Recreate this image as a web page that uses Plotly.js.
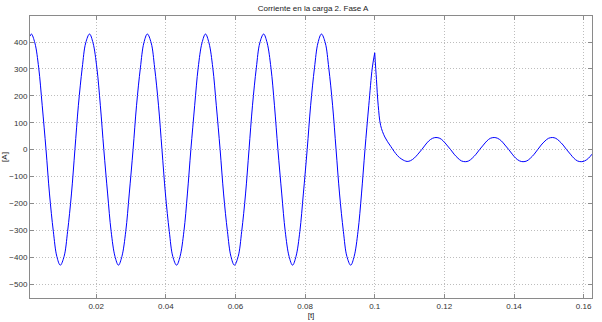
<!DOCTYPE html>
<html>
<head>
<meta charset="utf-8">
<script src="https://cdn.plot.ly/plotly-3.0.1.min.js"></script>
<style>html,body{margin:0;padding:0;background:#fff;}#chart{width:602px;height:322px;}</style>
</head>
<body>
<div id="chart"></div>
<script>
// Before the event (t <= 0.1 s): readings of the steady 60 Hz current
const tBefore = [0.0010,
  0.0014, 0.0024, 0.0035, 0.0045, 0.0056, 0.0066, 0.0077, 0.0087,
  0.0097, 0.0108, 0.0118, 0.0129, 0.0139, 0.0149, 0.0160, 0.0170,
  0.0181, 0.0191, 0.0202, 0.0212, 0.0222, 0.0233, 0.0243, 0.0254,
  0.0264, 0.0274, 0.0285, 0.0295, 0.0306, 0.0316, 0.0327, 0.0337,
  0.0347, 0.0358, 0.0368, 0.0379, 0.0389, 0.0399, 0.0410, 0.0420,
  0.0431, 0.0441, 0.0452, 0.0462, 0.0472, 0.0483, 0.0493, 0.0504,
  0.0514, 0.0524, 0.0535, 0.0545, 0.0556, 0.0566, 0.0577, 0.0587,
  0.0597, 0.0608, 0.0618, 0.0629, 0.0639, 0.0649, 0.0660, 0.0670,
  0.0681, 0.0691, 0.0702, 0.0712, 0.0722, 0.0733, 0.0743, 0.0754,
  0.0764, 0.0774, 0.0785, 0.0795, 0.0806, 0.0816, 0.0827, 0.0837,
  0.0847, 0.0858, 0.0868, 0.0879, 0.0889, 0.0899, 0.0910, 0.0920,
  0.0931, 0.0941, 0.0952, 0.0962, 0.0972, 0.0983, 0.0993,
  0.1000];
const iBefore = [422,
  430, 397, 304, 165, 0, -165, -304, -397,
  -430, -397, -304, -165, 0, 165, 304, 397,
  430, 397, 304, 165, 0, -165, -304, -397,
  -430, -397, -304, -165, 0, 165, 304, 397,
  430, 397, 304, 165, 0, -165, -304, -397,
  -430, -397, -304, -165, 0, 165, 304, 397,
  430, 397, 304, 165, 0, -165, -304, -397,
  -430, -397, -304, -165, 0, 165, 304, 397,
  430, 397, 304, 165, 0, -165, -304, -397,
  -430, -397, -304, -165, 0, 165, 304, 397,
  430, 397, 304, 165, 0, -165, -304, -397,
  -430, -397, -304, -165, 0, 165, 304,
  360];
// After the event (t >= 0.1 s)
const tAfter = [0.1000, 0.1005, 0.1010, 0.1017, 0.1029, 0.1046, 0.1065, 0.1078,
  0.1093, 0.1103, 0.1114, 0.1124, 0.1135, 0.1145, 0.1155, 0.1166,
  0.1176, 0.1187, 0.1197, 0.1207, 0.1218, 0.1228, 0.1239, 0.1249,
  0.1260, 0.1270, 0.1280, 0.1291, 0.1301, 0.1312, 0.1322, 0.1332,
  0.1343, 0.1353, 0.1364, 0.1374, 0.1385, 0.1395, 0.1405, 0.1416,
  0.1426, 0.1437, 0.1447, 0.1458, 0.1468, 0.1478, 0.1489, 0.1499,
  0.1510, 0.1520, 0.1530, 0.1541, 0.1551, 0.1562, 0.1572, 0.1582,
  0.1593, 0.1603, 0.1614, 0.1624];
const iAfter = [360, 260, 165, 90, 47, 12, -22, -36,
  -44, -41, -31, -17, 0, 17, 32, 42,
  45, 42, 32, 17, 0, -17, -32, -42,
  -45, -42, -32, -17, 0, 17, 32, 42,
  45, 42, 32, 17, 0, -17, -32, -42,
  -45, -42, -32, -17, 0, 17, 32, 42,
  45, 42, 32, 17, 0, -17, -32, -42,
  -45, -42, -32, -17];
const xTicks = [0.02, 0.04, 0.06, 0.08, 0.1, 0.12, 0.14, 0.16];
const xTickText = ['0.02', '0.04', '0.06', '0.08', '0.1', '0.12', '0.14', '0.16'];
const yTicks = [-500, -400, -300, -200, -100, 0, 100, 200, 300, 400];

const lineStyle = {color: 'rgb(0,0,255)', width: 1, shape: 'spline', smoothing: 1};
const traces = [
  {x: tBefore, y: iBefore, type: 'scatter', mode: 'lines', line: lineStyle, hoverinfo: 'skip'},
  {x: tAfter, y: iAfter, type: 'scatter', mode: 'lines', line: lineStyle, hoverinfo: 'skip'}
];
const font = 'Liberation Sans, Arial, sans-serif';
const axisCommon = {
  showline: true, linecolor: '#8a8a8a', linewidth: 1, mirror: 'ticks',
  ticks: 'inside', ticklen: 4, tickcolor: '#8a8a8a',
  showgrid: true, gridcolor: '#bdbdbd', griddash: '1px,2px', gridwidth: 1,
  zeroline: false, tickfont: {family: font, size: 8, color: '#333'}
};
const layout = {
  width: 602, height: 322,
  margin: {l: 30, r: 10, t: 16, b: 24},
  paper_bgcolor: '#fff', plot_bgcolor: '#fff',
  showlegend: false,
  title: {text: 'Corriente en la carga 2. Fase A', x: 0.52, xanchor: 'center', y: 0.975, yanchor: 'middle',
    font: {family: font, size: 8, color: '#222'}},
  xaxis: Object.assign({}, axisCommon, {range: [0.001, 0.1624], tickvals: xTicks, ticktext: xTickText,
    title: {text: '[t]', standoff: 2, font: {family: font, size: 8, color: '#222'}}}),
  yaxis: Object.assign({}, axisCommon, {range: [-552, 497], tickvals: yTicks,
    title: {text: '[A]', standoff: 6, font: {family: font, size: 8, color: '#222'}}})
};
Plotly.newPlot('chart', traces, layout, {displayModeBar: false, staticPlot: true});
</script>
</body>
</html>
